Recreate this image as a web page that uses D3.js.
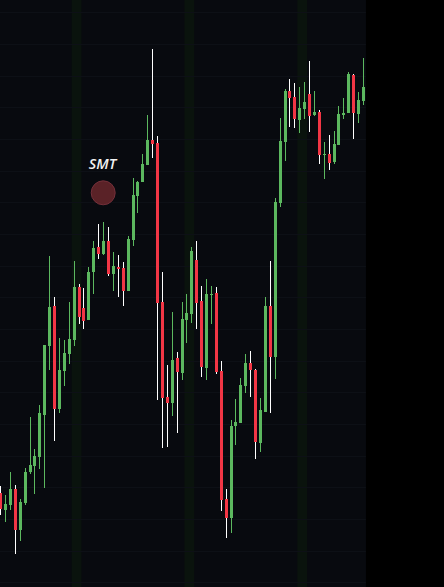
<!DOCTYPE html>
<html>
<head>
<meta charset="utf-8">
<script src="https://cdn.jsdelivr.net/npm/d3@7"></script>
<style>
	html, body { margin: 0; padding: 0; background: #000000; }
	svg { display: block; }
</style>
</head>
<body>
<div class="chart"></div>
<script>
// candle values (one entry per bar, left to right)
var opens = [107, 90.3, 95, 111, 70.3, 97, 127.7, 134, 143, 185,
	254, 294, 191, 229, 246, 260, 313, 292, 280, 328,
	353, 346, 359, 326, 333, 332, 309, 360, 404, 418,
	435, 460, 457, 298, 203, 197, 242, 227, 280, 286,
	340, 299, 232, 305, 307, 229, 101, 82, 174, 177,
	214, 237, 230, 157, 188, 294, 243, 397, 458, 509,
	503, 480, 491, 506, 485, 488, 445, 446, 438, 455,
	485, 487, 525, 486, 499];
var highs = [114, 105, 128, 115, 100.7, 131.7, 183, 150.7, 195, 255,
	344, 303, 262, 260, 298, 339, 316, 312, 333, 359,
	376, 378, 373, 348, 345, 338, 364, 422, 419, 446,
	485, 551, 464, 328, 235, 288, 248, 298, 306, 353,
	359, 314, 321, 314, 313, 239, 111, 180, 201, 222,
	246, 249, 231, 202, 303, 339, 402, 482, 511, 521,
	517, 513, 518, 539, 509, 490, 458, 465, 469, 494,
	502, 528, 526, 508, 542];
var lows = [85, 78.3, 90, 46, 59.3, 95, 126, 106, 131, 112.3,
	230, 159, 187, 214, 236, 254, 276, 271, 280, 306,
	341, 345, 324, 309, 303, 294, 309, 354, 387, 418,
	435, 442, 200, 152, 153, 184, 167, 220, 257, 277,
	271, 223, 220, 276, 226, 89, 62, 67, 155, 177,
	207, 203, 141, 148, 188, 187, 221, 393, 439, 473,
	472, 467, 481, 468, 484, 436, 421, 430, 436, 455,
	481, 487, 461, 477, 495];
var closes = [91.3, 96, 111.3, 70.3, 98, 128, 135, 144, 187, 255,
	293, 191, 230, 247, 261, 313, 283, 279, 328, 352,
	346, 359, 326, 334, 331, 309, 361, 405, 418, 436,
	460, 456, 297, 202, 197, 240, 228, 281, 287, 349,
	297, 233, 306, 306, 228, 100, 82, 174, 178, 215,
	237, 230, 158, 190, 294, 243, 398, 459, 509, 502,
	481, 492, 498, 484, 488, 445, 446, 437, 456, 486,
	487, 526, 487, 500, 513];

// horizontal price grid levels
var gridLevels = [587.7, 556.0, 524.4, 492.7, 461.0, 429.4, 397.7, 366.0, 334.4, 302.7,
	271.0, 239.4, 207.7, 176.0, 144.4, 112.7, 81.0, 49.4, 17.7];

// bar index at which each session highlight starts (two bars wide)
var sessionStarts = [15, 38, 61];

// annotation markers
var markerBars = [21];
var markerLabels = ["SMT"];

var CandleChart = function ()
{
	this.width = 444;
	this.height = 587;
	this.upColor = "#5cb85f";
	this.downColor = "#f23645";
	this.downWick = "#ffffff";

	this.svg = d3.select(".chart").append("svg")
		.attr("width", this.width)
		.attr("height", this.height);

	this.svg.append("rect")
		.attr("width", this.width)
		.attr("height", this.height)
		.attr("fill", "#000000");

	this.x = d3.scaleLinear()
		.domain([0, opens.length - 1])
		.range([0.6, 363.5]);

	this.y = d3.scaleLinear()
		.domain([0, 600])
		.range([600, 0]);

	this.g = this.svg.append("g");
};

CandleChart.prototype.drawBackground = function ()
{
	var x = this.x, y = this.y;
	var right = x(opens.length - 0.5);

	this.g.append("rect")
		.attr("x", 0)
		.attr("y", 0)
		.attr("width", right)
		.attr("height", this.height)
		.attr("fill", "#080a0f");

	this.g.selectAll(".session")
		.data(sessionStarts)
		.enter().append("rect")
		.attr("class", "session")
		.attr("x", function(d) { return x(d - 0.5); })
		.attr("y", 0)
		.attr("width", function(d) { return x(d + 1.5) - x(d - 0.5); })
		.attr("height", this.height)
		.attr("fill", "#0a130d");

	this.g.selectAll(".grid")
		.data(gridLevels)
		.enter().append("line")
		.attr("class", "grid")
		.attr("x1", 0)
		.attr("x2", right)
		.attr("y1", function(d) { return Math.round(y(d)) + 0.5; })
		.attr("y2", function(d) { return Math.round(y(d)) + 0.5; })
		.attr("stroke", "#0d1016")
		.attr("stroke-width", 1);
};

CandleChart.prototype.drawCandles = function ()
{
	var x = this.x, y = this.y;
	var up = this.upColor, down = this.downColor, downWick = this.downWick;

	var bars = d3.range(opens.length).map(function(i) {
		return {i: i, o: opens[i], h: highs[i], l: lows[i], c: closes[i]};
	});

	var candle = this.g.selectAll(".candle")
		.data(bars)
		.enter().append("g")
		.attr("class", "candle")
		.attr("shape-rendering", "crispEdges");

	candle.append("rect")
		.attr("x", function(d) { return Math.floor(x(d.i)); })
		.attr("y", function(d) { return y(d.h); })
		.attr("width", 1)
		.attr("height", function(d) { return y(d.l) - y(d.h); })
		.attr("fill", function(d) { return d.c >= d.o ? up : downWick; });

	candle.append("rect")
		.attr("x", function(d) { return Math.floor(x(d.i)) - 1; })
		.attr("y", function(d) { return y(Math.max(d.o, d.c)); })
		.attr("width", 3)
		.attr("height", function(d) { return Math.max(1, Math.abs(y(d.o) - y(d.c))); })
		.attr("fill", function(d) { return d.c >= d.o ? up : down; });
};

CandleChart.prototype.drawMarkers = function ()
{
	var x = this.x, y = this.y;

	var marks = this.g.selectAll(".marker")
		.data(markerBars)
		.enter().append("g")
		.attr("class", "marker")
		.attr("transform", function(d) {
			return "translate(" + (Math.floor(x(d)) + 0.5) + "," + y(highs[d]) + ")";
		});

	marks.append("circle")
		.attr("cx", -0.3)
		.attr("cy", -29.2)
		.attr("r", 12)
		.attr("fill", "#5a2227")
		.attr("stroke", "#74303a")
		.attr("stroke-width", 1);

	marks.append("text")
		.attr("x", -1)
		.attr("y", -53.5)
		.attr("text-anchor", "middle")
		.attr("font-family", "'Open Sans', sans-serif")
		.attr("font-style", "italic")
		.attr("font-weight", 600)
		.attr("font-size", 14.5)
		.attr("fill", "#f2f2f2")
		.text(function(d, i) { return markerLabels[i]; });
};

var chart = new CandleChart();
chart.drawBackground();
chart.drawCandles();
chart.drawMarkers();
</script>
</body>
</html>
